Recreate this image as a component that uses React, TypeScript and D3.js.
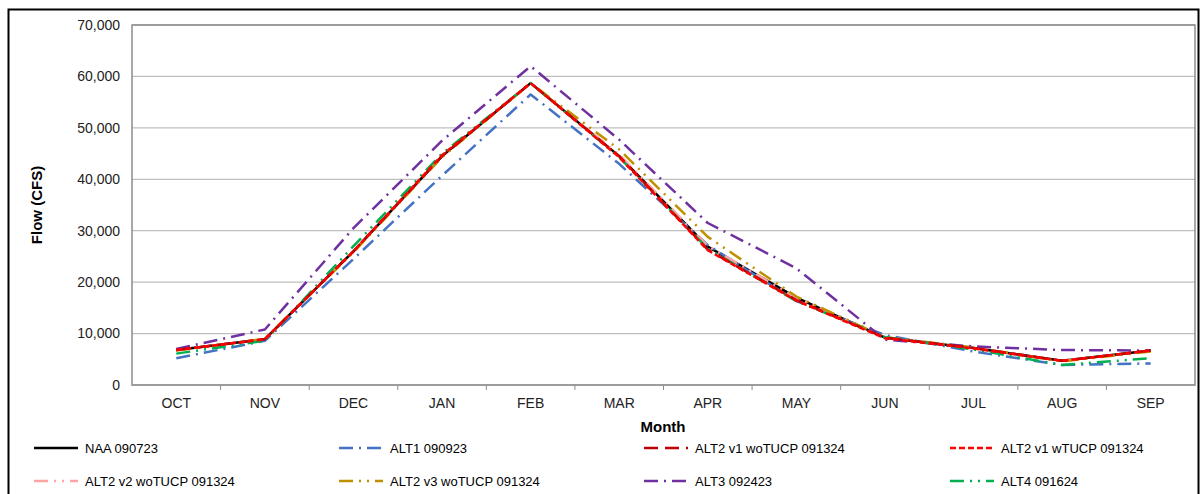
import React from "react";
import * as d3 from "d3";

const months = ["OCT", "NOV", "DEC", "JAN", "FEB", "MAR", "APR", "MAY", "JUN", "JUL", "AUG", "SEP"];
const yTicks = [0, 10000, 20000, 30000, 40000, 50000, 60000, 70000];

const naa = [6800, 8900, 26000, 44500, 58700, 44500, 26900, 17000, 9200, 7200, 4700, 6700];
const alt1 = [5200, 8600, 24500, 40700, 56500, 43000, 27200, 16300, 9700, 6500, 3900, 4200];
const alt2v1wo = [6800, 8900, 26000, 44500, 58700, 44500, 26300, 16500, 9200, 7200, 4700, 6700];
const alt2v1w = [6800, 8900, 26000, 44700, 58700, 44300, 26200, 16400, 9100, 7100, 4700, 6700];
const alt2v2wo = [6800, 8900, 26000, 44500, 58700, 44800, 27000, 17000, 9200, 7200, 4700, 6700];
const alt2v3wo = [6700, 9000, 25800, 44300, 58700, 45800, 28800, 17200, 9300, 7300, 4600, 6500];
const alt3 = [7000, 10800, 30500, 47500, 62000, 47700, 31500, 22700, 8800, 7500, 6800, 6700];
const alt4 = [6100, 8600, 27000, 45000, 58700, 44300, 26500, 16300, 9300, 6900, 3900, 5200];

const series = [
  { name: "NAA 090723", values: naa, color: "#000000", dash: "", legend: 0 },
  { name: "ALT1 090923", values: alt1, color: "#4472C4", dash: "14,6,2,6", legend: 1 },
  { name: "ALT2 v1 woTUCP 091324", values: alt2v1wo, color: "#C00000", dash: "14,7", legend: 2 },
  { name: "ALT2 v1 wTUCP 091324", values: alt2v1w, color: "#FF0000", dash: "6,3", legend: 3 },
  { name: "ALT2 v2 woTUCP 091324", values: alt2v2wo, color: "#FFA3A3", dash: "14,6,2,6,2,6", legend: 4 },
  { name: "ALT2 v3 woTUCP 091324", values: alt2v3wo, color: "#BF9000", dash: "14,6,2,6,2,6", legend: 5 },
  { name: "ALT3 092423", values: alt3, color: "#7030A0", dash: "14,6,2,6", legend: 6 },
  { name: "ALT4 091624", values: alt4, color: "#00B050", dash: "14,6,2,6,2,6", legend: 7 },
];

const drawOrder = [0, 1, 4, 5, 6, 7, 2, 3];

const W = 1201;
const H = 494;
const plot = { left: 132, top: 25, right: 1195, bottom: 385 };
const font = "Arial, 'Liberation Sans', sans-serif";

export default function App() {
  const x = d3.scaleBand<string>().domain(months).range([plot.left, plot.right]).paddingInner(0).paddingOuter(0);
  const y = d3.scaleLinear().domain([0, 70000]).range([plot.bottom, plot.top]);
  const line = d3
    .line<number>()
    .x((_, i) => (x(months[i]) as number) + x.bandwidth() / 2)
    .y((d) => y(d));
  const fmt = d3.format(",");

  const legendCols = [34, 339, 644, 950];
  const legendRows = [448, 481];

  return (
    <div style={{ position: "fixed", left: 0, top: 0, width: W, height: H, background: "#fff" }}>
      <svg width={W} height={H} style={{ display: "block" }}>
        <rect x={0} y={0} width={W} height={H} fill="#fff" />
        <rect x={8.5} y={9.5} width={1190} height={500} fill="none" stroke="#000" strokeWidth={2} />
        {yTicks.map((t) => (
          <line key={t} x1={plot.left} x2={plot.right} y1={y(t)} y2={y(t)} stroke="#BFBFBF" strokeWidth={1.3} />
        ))}
        <rect
          x={plot.left}
          y={plot.top}
          width={plot.right - plot.left}
          height={plot.bottom - plot.top}
          fill="none"
          stroke="#8C8C8C"
          strokeWidth={1.5}
        />
        {months.slice(1).map((m) => (
          <line
            key={m}
            x1={x(m) as number}
            x2={x(m) as number}
            y1={plot.bottom}
            y2={plot.bottom + 5}
            stroke="#8C8C8C"
            strokeWidth={1}
          />
        ))}
        {yTicks.map((t) => (
          <text
            key={t}
            x={120}
            y={y(t)}
            dy="0.35em"
            textAnchor="end"
            fontFamily={font}
            fontSize={14}
            fill="#222"
          >
            {fmt(t)}
          </text>
        ))}
        {months.map((m) => (
          <text
            key={m}
            x={(x(m) as number) + x.bandwidth() / 2}
            y={408}
            textAnchor="middle"
            fontFamily={font}
            fontSize={14}
            fill="#222"
          >
            {m}
          </text>
        ))}
        <text x={663} y={432} textAnchor="middle" fontFamily={font} fontSize={15} fontWeight="bold" fill="#000">
          Month
        </text>
        <text
          transform="translate(42,205) rotate(-90)"
          textAnchor="middle"
          fontFamily={font}
          fontSize={15}
          fontWeight="bold"
          fill="#000"
        >
          Flow (CFS)
        </text>
        {drawOrder.map((i) => {
          const s = series[i];
          return (
            <path
              key={s.name}
              d={line(s.values) as string}
              fill="none"
              stroke={s.color}
              strokeWidth={2.5}
              strokeDasharray={s.dash || undefined}
              strokeLinejoin="round"
            />
          );
        })}
        {series.map((s) => {
          const lx = legendCols[s.legend % 4];
          const ry = legendRows[Math.floor(s.legend / 4)];
          return (
            <g key={s.name}>
              <line
                x1={lx}
                x2={lx + 44}
                y1={ry}
                y2={ry}
                stroke={s.color}
                strokeWidth={2.5}
                strokeDasharray={s.dash || undefined}
              />
              <text x={lx + 51} y={ry} dy="0.35em" fontFamily={font} fontSize={13} fill="#000">
                {s.name}
              </text>
            </g>
          );
        })}
      </svg>
    </div>
  );
}
